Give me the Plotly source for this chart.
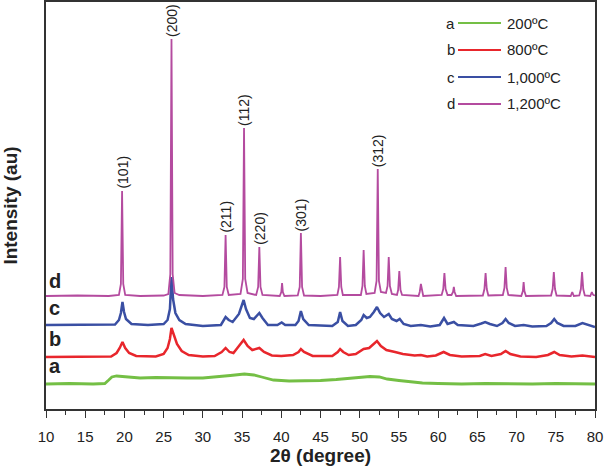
import plotly.graph_objects as go

# ---- data (2theta, intensity in arbitrary units, offset-stacked as in the figure) ----
a_pts = [(10, 25), (13, 25.5), (16, 25), (17.5, 25.5), (18.0, 29), (18.4, 32), (19.0, 33), (20.5, 32),
         (22, 31), (24, 31.5), (26, 31), (28, 31), (30, 31), (32, 32), (33.5, 33.5), (35.3, 35),
         (36.5, 34), (37.5, 32), (39, 29), (41, 28), (43, 28), (45, 28.5), (47, 29.5), (49, 31),
         (51.3, 32.5), (52.5, 32), (53.5, 30), (55, 28.5), (56.5, 27), (58, 26), (60, 25.5),
         (63, 25), (66, 25.5), (69, 25), (72, 25), (75, 25.5), (78, 25), (80, 25)]

b_pts = [(10, 52), (15, 52), (18.3, 52.5), (19.0, 56), (19.4, 61), (19.75, 67), (20.1, 61), (20.6, 56),
         (21.5, 53), (24, 52.5), (25.0, 55), (25.5, 61), (25.8, 70), (26.0, 81), (26.3, 74), (26.7, 65),
         (27.3, 58), (28.2, 54), (30, 52.5), (31.5, 53), (32.4, 57), (32.9, 61), (33.4, 57), (33.9, 56),
         (34.6, 63), (35.2, 69), (35.7, 63), (36.3, 59), (37.2, 61), (37.8, 57), (38.8, 53.5), (40, 53),
         (41.5, 54), (42.2, 57), (42.5, 60), (42.9, 57), (44, 53), (46.5, 53), (47.2, 57), (47.5, 60),
         (47.9, 57), (48.6, 54), (49.5, 55), (50.5, 60), (51.2, 61), (51.8, 65), (52.2, 68), (52.7, 63),
         (53.4, 59), (54.5, 57), (55.5, 55), (57, 53.5), (57.8, 54), (58.6, 52.5), (59.7, 53.5),
         (60.7, 57), (61.5, 54), (63, 52.5), (65.3, 53), (66, 55), (66.8, 53), (68.0, 55), (68.6, 58),
         (69.2, 55), (70.5, 52.5), (72.5, 52), (74.0, 54), (74.8, 57), (75.5, 54), (77, 52.5),
         (78.4, 53.5), (80, 52)]

c_pts = [(10, 84), (15, 84), (18.8, 84.5), (19.3, 89), (19.55, 96), (19.75, 107), (19.95, 97), (20.2, 90),
         (20.9, 85), (23, 84), (25.0, 85), (25.5, 89), (25.8, 100), (26.0, 132), (26.2, 110), (26.5, 96),
         (27.0, 89), (27.8, 85), (30, 83), (32.3, 84), (32.6, 88), (32.9, 92), (33.3, 89), (33.8, 87),
         (34.6, 95), (35.0, 103), (35.2, 109), (35.5, 100), (36.0, 91), (36.5, 90), (37.2, 96),
         (37.6, 91), (38.3, 84), (39.5, 84), (40.05, 86.5), (40.5, 84), (41.8, 84), (42.2, 88),
         (42.5, 98), (42.8, 90), (43.5, 84), (46.5, 83), (47.2, 87), (47.5, 97), (47.8, 88), (48.5, 83),
         (49.5, 84), (50.2, 89), (50.5, 94), (50.9, 91), (51.3, 92), (51.8, 97), (52.2, 102), (52.6, 96),
         (53.1, 92), (53.7, 95), (54.1, 90), (54.7, 88), (55.1, 90), (55.6, 85), (56.5, 83), (57.8, 84),
         (59, 82.5), (60.2, 84), (60.75, 91), (61.2, 85), (61.7, 86), (62.0, 87), (62.5, 84), (64.5, 83),
         (65.5, 85.5), (66.0, 87), (66.6, 85), (67.5, 83), (68.2, 86), (68.6, 90), (69.0, 86), (69.8, 83),
         (70.9, 84), (72, 82.5), (73.8, 83), (74.4, 86), (74.8, 90), (75.2, 86), (76, 83), (77.5, 83),
         (78.4, 86), (79.2, 84), (80, 82)]

d_pts = [(10, 113), (14, 113.5), (18, 113), (19.3, 114), (19.55, 125), (19.7, 218), (19.85, 125),
         (20.1, 114), (22, 113), (25, 113.5), (25.6, 115), (25.85, 135), (26.0, 370), (26.15, 135),
         (26.4, 116), (27, 114), (30, 113), (32.5, 114), (32.75, 122), (32.9, 174), (33.05, 122),
         (33.3, 114), (34.8, 115), (35.1, 130), (35.25, 281), (35.4, 130), (35.7, 116), (36.8, 114),
         (37.05, 122), (37.2, 162), (37.35, 122), (37.6, 114), (39.8, 113), (40.0, 117), (40.1, 126),
         (40.2, 117), (40.4, 113), (42.1, 113.5), (42.35, 122), (42.5, 176), (42.65, 122), (42.9, 113.5),
         (45, 113), (47.15, 114), (47.35, 122), (47.5, 152), (47.65, 122), (47.85, 114), (50.15, 114),
         (50.35, 123), (50.5, 159), (50.65, 123), (50.85, 115), (51.9, 116), (52.15, 128), (52.3, 240),
         (52.45, 128), (52.7, 117), (53.35, 116), (53.55, 123), (53.7, 152), (53.85, 123), (54.1, 115),
         (54.75, 114), (54.9, 119), (55.05, 138), (55.2, 119), (55.4, 114), (57.5, 113), (57.65, 117),
         (57.8, 125), (57.95, 117), (58.1, 113), (60.45, 114), (60.65, 120), (60.8, 136), (60.95, 120),
         (61.2, 114), (61.7, 114), (61.9, 117), (62.0, 122), (62.1, 117), (62.3, 113), (65.7, 113.5),
         (65.9, 120), (66.05, 136), (66.2, 120), (66.4, 113.5), (68.25, 114), (68.45, 121), (68.6, 142),
         (68.75, 121), (68.95, 114), (70.6, 113), (70.8, 118), (70.9, 127), (71.0, 118), (71.2, 113),
         (74.4, 113.5), (74.6, 120), (74.75, 137), (74.9, 120), (75.1, 113.5), (76.9, 113), (77.0, 115),
         (77.1, 117), (77.2, 115), (77.3, 113), (78.0, 113.5), (78.2, 120), (78.35, 137), (78.5, 120),
         (78.7, 113.5), (79.4, 113), (79.5, 115), (79.6, 117), (79.7, 115), (79.8, 114), (80, 113.5)]

series_letters = ["a", "b", "c", "d"]
series_names = ["200ºC", "800ºC", "1,000ºC", "1,200ºC"]
series_colors = ["#74BF45", "#E8262C", "#3A4FA3", "#B44B9F"]
series_points = [a_pts, b_pts, c_pts, d_pts]
series_widths = [2.8, 2.5, 2.5, 1.8]
letter_y = [30, 57, 88, 115]

peak_labels = ["(101)", "(200)", "(211)", "(112)", "(220)", "(301)", "(312)"]
peak_pos = [19.7, 26.0, 32.9, 35.25, 37.2, 42.5, 52.3]
peak_top = [218, 370, 174, 281, 162, 176, 240]

FONT = "Liberation Sans, Arial, sans-serif"

fig = go.Figure()
for pts, col, w, nm in zip(series_points, series_colors, series_widths, series_names):
    fig.add_trace(go.Scatter(x=[p[0] for p in pts], y=[p[1] for p in pts], mode="lines",
                             line=dict(color=col, width=w), name=nm, showlegend=False))

ann = []
for lab, x, y in zip(peak_labels, peak_pos, peak_top):
    ann.append(dict(x=x, y=y, xref="x", yref="y", text=lab, textangle=-90, showarrow=False,
                    xanchor="center", yanchor="bottom", yshift=0,
                    font=dict(family=FONT, size=14, color="#222")))
for let, y in zip(series_letters, letter_y):
    ann.append(dict(x=10.1, y=y, xref="x", yref="y", text="<b>%s</b>" % let, showarrow=False,
                    xanchor="left", yanchor="bottom", font=dict(family=FONT, size=20, color="#222")))

# legend drawn manually: letter, line, label
shapes = []
leg_rows_px = [23, 50, 77, 104]
H = 407.0
for let, nm, col, ypx in zip(series_letters, series_names, series_colors, leg_rows_px):
    yp = (409 - ypx) / H
    shapes.append(dict(type="line", xref="paper", yref="paper", x0=(458 - 46) / 549, x1=(501 - 46) / 549,
                       y0=yp, y1=yp, line=dict(color=col, width=2)))
    ann.append(dict(x=(457 - 46) / 549, y=yp, xref="paper", yref="paper", text=let, showarrow=False,
                    xanchor="right", yanchor="middle", font=dict(family=FONT, size=15, color="#222")))
    ann.append(dict(x=(505 - 46) / 549, y=yp, xref="paper", yref="paper", text=nm, showarrow=False,
                    xanchor="left", yanchor="middle", font=dict(family=FONT, size=15, color="#222")))

fig.update_layout(
    width=604, height=468, margin=dict(l=46, r=9, t=2, b=59, autoexpand=False),
    paper_bgcolor="white", plot_bgcolor="white",
    annotations=ann, shapes=shapes, showlegend=False,
    xaxis=dict(range=[10, 80], dtick=5, tick0=10, ticks="outside", ticklen=7, tickwidth=1.2,
               tickcolor="#333", showline=True, linecolor="#333", linewidth=1.5, mirror=True,
               showgrid=False, zeroline=False, automargin=False, ticklabelstandoff=6,
               tickfont=dict(family=FONT, size=15, color="#222"),
               minor=dict(dtick=2.5, ticks="outside", ticklen=4, tickcolor="#333", tickwidth=1.2),
               title=dict(text="<b>2θ (degree)</b>", font=dict(family=FONT, size=19, color="#222"),
                          standoff=4)),
    yaxis=dict(range=[0, 407], showticklabels=False, ticks="", showline=True, linecolor="#333",
               linewidth=1.5, mirror=True, showgrid=False, zeroline=False, automargin=False,
               title=dict(text="<b>Intensity (au)</b>", font=dict(family=FONT, size=19, color="#222"),
                          standoff=22)),
)
fig.write_html("out.html", config={"displayModeBar": False},
               post_script="document.body.style.margin='0';document.body.style.overflow='hidden';")
